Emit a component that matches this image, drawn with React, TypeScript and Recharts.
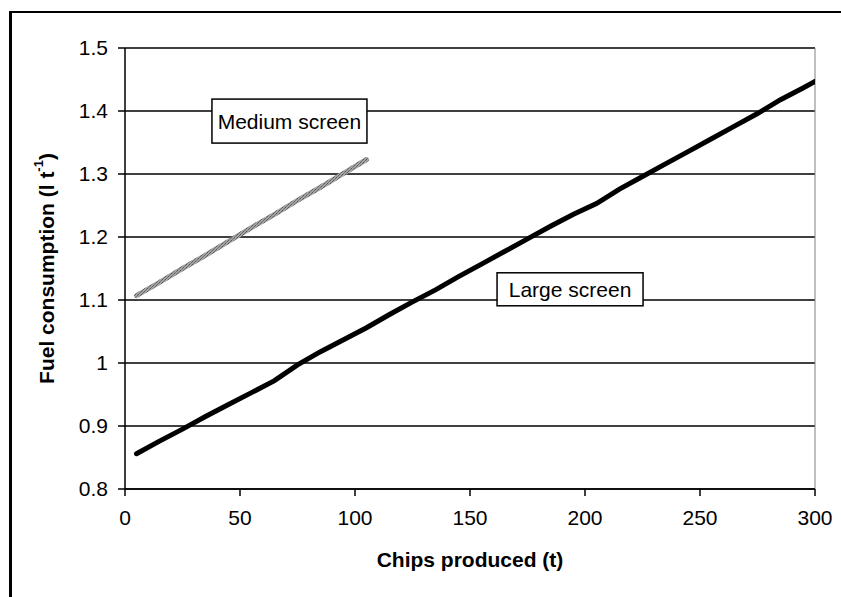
import { LineChart, Line, XAxis, YAxis, CartesianGrid, ReferenceLine, ReferenceDot } from 'recharts';

const largeProduced = [5, 15, 25, 35, 45, 55, 65, 75, 85, 95, 105, 115, 125, 135, 145, 155, 165, 175, 185, 195, 205, 215, 225, 235, 245, 255, 265, 275, 285, 295, 300];
const largeFuel = [0.856, 0.876, 0.895, 0.915, 0.934, 0.953, 0.972, 0.997, 1.018, 1.037, 1.056, 1.077, 1.097, 1.116, 1.137, 1.157, 1.177, 1.197, 1.217, 1.236, 1.253, 1.276, 1.296, 1.316, 1.336, 1.356, 1.376, 1.396, 1.418, 1.437, 1.447];

const mediumProduced = [5, 15, 25, 35, 45, 55, 65, 75, 85, 95, 105];
const mediumFuel = [1.107, 1.128, 1.15, 1.171, 1.193, 1.215, 1.236, 1.258, 1.279, 1.301, 1.323];

const xTicks = [0, 50, 100, 150, 200, 250, 300];
const yTicks = [0.8, 0.9, 1, 1.1, 1.2, 1.3, 1.4, 1.5];

const large = largeProduced.map((x, i) => ({ x, y: largeFuel[i] }));
const medium = mediumProduced.map((x, i) => ({ x, y: mediumFuel[i] }));

const FONT = '"Liberation Sans", Arial, sans-serif';

function BoxLabel({ cx, cy, text, w, h }: any) {
  return (
    <g>
      <rect x={cx - w / 2} y={cy - h / 2} width={w} height={h} fill="#fff" stroke="#000" strokeWidth={1.5} />
      <text x={cx} y={cy} textAnchor="middle" dominantBaseline="central" fontSize={21} fontFamily={FONT} fill="#000">
        {text}
      </text>
    </g>
  );
}

function YTitle({ viewBox }: any) {
  const cx = 46;
  const cy = viewBox.y + viewBox.height / 2;
  return (
    <text
      x={cx}
      y={cy}
      transform={`rotate(-90 ${cx} ${cy})`}
      textAnchor="middle"
      dominantBaseline="central"
      fontSize={21}
      fontWeight="bold"
      fontFamily={FONT}
      fill="#000"
    >
      Fuel consumption (l t<tspan fontSize={13} dy={-8}>-1</tspan><tspan dy={8}>)</tspan>
    </text>
  );
}

export default function App() {
  return (
    <div style={{ position: 'fixed', left: 0, top: 0, width: 841, height: 597, overflow: 'hidden', background: '#fff' }}>
      <div
        style={{
          position: 'absolute',
          left: 9,
          top: 11,
          width: 1000,
          height: 1000,
          borderLeft: '3px solid #000',
          borderTop: '2px solid #000',
        }}
      />
      <LineChart
        width={841}
        height={597}
        margin={{ top: 48, right: 26, left: 0, bottom: 0 }}
        style={{ position: 'absolute', left: 0, top: 0 }}
      >
        <defs>
          <pattern id="dither" width="3" height="3" patternUnits="userSpaceOnUse">
            <rect width="3" height="3" fill="#a4a4a4" />
            <rect width="1" height="1" fill="#555" />
            <rect x="2" y="1" width="1" height="1" fill="#6a6a6a" />
            <rect x="1" y="2" width="1" height="1" fill="#777" />
          </pattern>
        </defs>
        <CartesianGrid horizontal vertical={false} stroke="#000" strokeWidth={1.5} />
        <XAxis
          type="number"
          dataKey="x"
          domain={[0, 300]}
          ticks={xTicks}
          allowDataOverflow
          height={108}
          tickSize={7}
          tickMargin={14}
          stroke="#000"
          strokeWidth={1.5}
          tick={{ fontSize: 21, fill: '#000', fontFamily: FONT }}
          tickLine={{ stroke: '#000', strokeWidth: 1.5 }}
          label={{
            value: 'Chips produced (t)',
            position: 'insideBottom',
            offset: 30,
            fontSize: 21,
            fontWeight: 'bold',
            fill: '#000',
            fontFamily: FONT,
          }}
        />
        <YAxis
          type="number"
          domain={[0.8, 1.5]}
          ticks={yTicks}
          allowDataOverflow
          width={125}
          tickSize={7}
          tickMargin={10}
          stroke="#000"
          strokeWidth={1.5}
          tick={{ fontSize: 21, fill: '#000', fontFamily: FONT }}
          tickLine={{ stroke: '#000', strokeWidth: 1.5 }}
          label={<YTitle />}
        />
        <ReferenceLine x={300} stroke="#808080" strokeWidth={1} />
        <Line
          data={medium}
          dataKey="y"
          type="linear"
          stroke="url(#dither)"
          strokeWidth={5}
          strokeLinecap="round"
          dot={false}
          isAnimationActive={false}
        />
        <Line
          data={large}
          dataKey="y"
          type="linear"
          stroke="#000"
          strokeWidth={5}
          strokeLinecap="round"
          dot={false}
          isAnimationActive={false}
        />
        <ReferenceDot
          x={71.5}
          y={1.384}
          r={0}
          shape={(p: any) => <BoxLabel cx={p.cx} cy={p.cy} text="Medium screen" w={155} h={44} />}
        />
        <ReferenceDot
          x={193.5}
          y={1.117}
          r={0}
          shape={(p: any) => <BoxLabel cx={p.cx} cy={p.cy} text="Large screen" w={146} h={33} />}
        />
      </LineChart>
    </div>
  );
}
